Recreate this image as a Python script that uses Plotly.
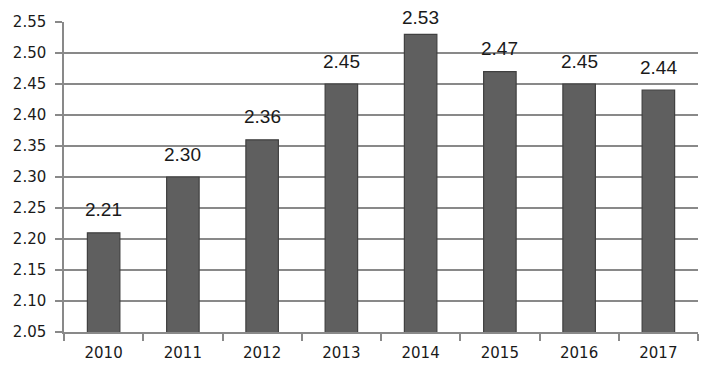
import plotly.graph_objects as go

years = ["2010", "2011", "2012", "2013", "2014", "2015", "2016", "2017"]
values = [2.21, 2.30, 2.36, 2.45, 2.53, 2.47, 2.45, 2.44]
y_ticks = [2.05, 2.10, 2.15, 2.20, 2.25, 2.30, 2.35, 2.40, 2.45, 2.50, 2.55]

FONT = "DejaVu Sans, Noto Sans, sans-serif"
LABEL_FONT = "Liberation Sans, Arial, sans-serif"

Y_MIN, Y_MAX = 2.05, 2.55
PLOT_H = 310  # plot area height in px

fig = go.Figure()
fig.add_trace(go.Bar(
    x=years, y=values,
    marker=dict(color="#5f5f5f", line=dict(color="#404040", width=1.2)),
    width=0.41,
))

for i, v in enumerate(values):
    room = (Y_MAX - v) / (Y_MAX - Y_MIN) * PLOT_H + 4
    fig.add_annotation(x=i, y=v, xref="x", yref="y", text=f"{v:.2f}", showarrow=False,
                       yanchor="middle", yshift=min(23, room),
                       font=dict(family=LABEL_FONT, size=19, color="#1a1a1a"))

fig.update_layout(
    width=720, height=384,
    margin=dict(l=56, r=30, t=14, b=60),
    paper_bgcolor="white", plot_bgcolor="white",
    showlegend=False,
    font=dict(family=FONT, size=15, color="#1a1a1a"),
)
fig.update_xaxes(
    type="category", range=[-0.5, len(years) - 0.5], showgrid=False,
    showline=True, linecolor="#898989", linewidth=1.5,
    ticks="outside", tickson="boundaries", ticklen=7, tickcolor="#898989", tickwidth=1.5,
    tickfont=dict(family=FONT, size=15, color="#1a1a1a"), tickangle=0,
    ticklabelstandoff=6, automargin=False,
)
fig.update_yaxes(
    range=[Y_MIN, Y_MAX], tickvals=y_ticks, ticktext=[f"{t:.2f}" for t in y_ticks],
    showgrid=True, gridcolor="#898989", gridwidth=1.5,
    showline=True, linecolor="#898989", linewidth=1.5,
    ticks="outside", ticklen=7, tickcolor="#898989", tickwidth=1.5,
    tickfont=dict(family=FONT, size=15, color="#1a1a1a"),
    ticklabelstandoff=6, zeroline=False, automargin=False,
)

fig.write_html("out.html")
